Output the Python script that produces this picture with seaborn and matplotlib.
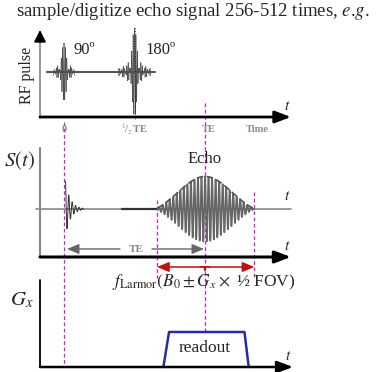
import numpy as np
import pandas as pd
import matplotlib
matplotlib.use("Agg")
import matplotlib.pyplot as plt
import seaborn as sns

sns.set_theme(style="white")
plt.rcParams['font.family'] = ['Liberation Serif', 'DejaVu Serif']
plt.rcParams['mathtext.fontset'] = 'stix'

# ---- data (times in units of TE) ----
title = r"sample/digitize echo signal 256-512 times, $\mathit{e}$.$\mathit{g}$."
tick_labels = ["0", "$^1\\!/_2\\,$TE", "TE", "Time"]
tick_times = [0.0, 0.5, 1.0, 1.37]
pulse_labels = ["90º", "180º"]
pulse_times = [0.0, 0.5]
pulse_amps = [0.66, 1.0]
echo_time = 1.0
readout_window = [0.66, 1.35]
grad_ramp_times = [0.705, 0.745, 1.28, 1.31]
grad_levels = [0.0, 1.0, 1.0, 0.0]
freq_label = r"$f_{\mathrm{Larmor}}(B_0 \pm G_x \times$ ½ FOV)"

# ---- layout helpers ----
W, H = 376, 372
fig = plt.figure(figsize=(W / 100, H / 100), dpi=100)
ax = fig.add_axes([0, 0, 1, 1])
ax.set_xlim(0, W)
ax.set_ylim(H, 0)
ax.axis("off")

X0, PX = 64.0, 141.0
def X(t):
    return X0 + np.asarray(t) * PX

RF_BASE, SIG_BASE, SIG_AX, GR_BASE = 72, 209, 257, 367
AX_L, AX_R = 40, 291

def arrow(x0, y0, x1, y1, color="black", lw=2.0, hw=4, hl=7, style="-|>"):
    ax.annotate("", xy=(x1, y1), xytext=(x0, y0),
                arrowprops=dict(arrowstyle=f"{style},head_width={hw/10},head_length={hl/10}",
                                color=color, lw=lw, shrinkA=0, shrinkB=0))

# ---- title ----
ax.text(193, 12, title, ha="center", va="center", fontsize=13.5)

# ---- magenta guide lines ----
mag = "#d020d0"
ax.plot([X(0)] * 2, [122, GR_BASE], ls=(0, (3, 2)), color=mag, lw=0.9)
ax.plot([X(1.0)] * 2, [103, 332], ls=(0, (3, 2)), color=mag, lw=0.9)
for t, ytop in zip(readout_window, [200, 192]):
    ax.plot([X(t)] * 2, [ytop, 278], ls=(0, (3, 2)), color=mag, lw=0.9)

# ---- RF panel ----
ax.plot([AX_L, AX_L], [118, 36], color="#999999", lw=1.5)
arrow(AX_L, 40, AX_L, 30, color="black", lw=1.2, hw=3, hl=6)
arrow(AX_L, 117, AX_R, 117, lw=2.0, hw=3, hl=8)
ax.plot([47, 155], [RF_BASE, RF_BASE], color="#555555", lw=1.5)
ax.text(27, 75, "RF pulse", rotation=90, ha="center", va="center", fontsize=11.5)
ax.text(287, 106, "$t$", fontsize=11, ha="center", va="center")
for t, a, lab, dx, half in zip(pulse_times, pulse_amps, pulse_labels, [9, 11], [0.075, 0.115]):
    tt = np.linspace(-half, half, 1500)
    y = a * 44 * np.sinc(tt / 0.032) * np.cos(2 * np.pi * tt / 0.010)
    df = pd.DataFrame({"x": X(t + tt), "y": RF_BASE - y})
    sns.lineplot(data=df, x="x", y="y", ax=ax, color="#505050", lw=0.45,
                 sort=False, estimator=None)
    ax.text(X(t) + dx, 50, lab, fontsize=12, ha="left", va="center")
ax.plot([X(0.5)] * 2, [28, 120], ls=(0, (1, 2)), color="black", lw=0.6)
for t, lab in zip(tick_times, tick_labels):
    ax.text(X(t) + (4 if lab == "TE" else 0), 129, lab, fontsize=7.5, color="#888888",
            ha="center", va="center", fontweight="bold")

# ---- signal panel ----
ax.plot([AX_L, AX_L], [148, SIG_AX], color="#888888", lw=1.5)
ax.plot([36, AX_R], [SIG_BASE, SIG_BASE], color="#888888", lw=1.2)
ax.plot([122, 157], [SIG_BASE, SIG_BASE], color="#333333", lw=1.6)
arrow(AX_L, SIG_AX, AX_R, SIG_AX, lw=2.2, hw=3, hl=8)
ax.text(20, 161, "$S(t)$", fontsize=15, ha="center", va="center")
ax.text(287, 197, "$t$", fontsize=11, ha="center", va="center")
ax.text(287, 246, "$t$", fontsize=11, ha="center", va="center")

# FID
tf = np.linspace(0.01, 0.14, 800)
fid = 37 * np.exp(-tf / 0.035) * np.cos(2 * np.pi * (tf - 0.01) / 0.024)
sns.lineplot(x=X(tf), y=SIG_BASE - fid, ax=ax, color="#333333", lw=0.7,
             sort=False, estimator=None)
# echo
te = np.linspace(readout_window[0], readout_window[1], 2000)
env = 40 * np.exp(-((te - echo_time) / 0.27) ** 2)
env = env - env.min()
echo = env * np.cos(2 * np.pi * (te - echo_time) / 0.025)
sns.lineplot(x=X(te), y=SIG_BASE - echo, ax=ax, color="#666666", lw=1.2,
             sort=False, estimator=None)
ax.plot(X(te), SIG_BASE - env, color="#555555", ls=(0, (4, 2)), lw=1.2)
ax.text(X(echo_time), 159, "Echo", fontsize=12, ha="center", va="center")

# TE arrow
arrow(120, 249, X(0) + 3, 249, color="#666666", lw=1.0, hw=2.5, hl=6)
arrow(152, 249, X(1.0) - 1, 249, color="#666666", lw=1.0, hw=2.5, hl=6)
ax.text(136, 249, "TE", fontsize=8, color="#888888", ha="center", va="center",
        fontweight="bold")

# ---- frequency arrow ----
red = "#c01010"
ax.annotate("", xy=(X(readout_window[0]), 267), xytext=(X(readout_window[1]), 267),
            arrowprops=dict(arrowstyle="<|-|>,head_width=0.25,head_length=0.6",
                            color=red, lw=1.1, shrinkA=0, shrinkB=0))
ax.plot([X(1.0) - 5, X(1.0) - 1, X(1.0), X(1.0) + 1, X(1.0) + 5],
        [267, 266.5, 271, 266.5, 267], color=red, lw=1.0)
ax.text(X(1.0) - 1, 282, freq_label, fontsize=12.5, ha="center", va="center")

# ---- gradient panel ----
ax.plot([AX_L, AX_L], [280, GR_BASE], color="black", lw=1.3)
arrow(AX_L, GR_BASE, 293, GR_BASE, lw=1.8, hw=3, hl=8)
ax.text(22, 300, "$G_x$", fontsize=15, ha="center", va="center")
ax.text(288, 356, "$t$", fontsize=11, ha="center", va="center")
trap_x = X(np.array(grad_ramp_times))
trap_y = GR_BASE - 35 * np.array(grad_levels)
sns.lineplot(x=trap_x, y=trap_y, ax=ax, color="#2a2aa8", lw=1.8, sort=False,
             estimator=None)
ax.text(X(1.0), 348, "readout", fontsize=12.5, ha="center", va="center")

fig.savefig("out.png", dpi=100)
